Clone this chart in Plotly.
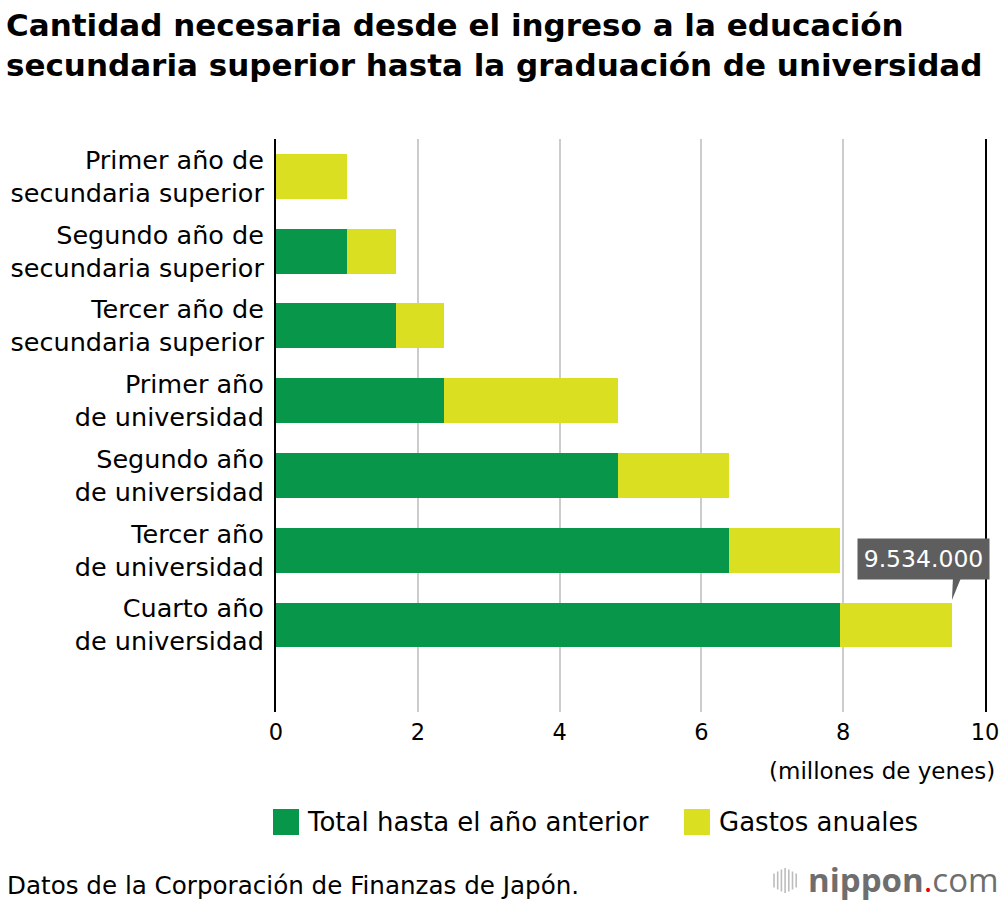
import numpy as np
import plotly.graph_objects as go

# data (yen)
categories = [
    'Primer año de<br>secundaria superior',
    'Segundo año de<br>secundaria superior',
    'Tercer año de<br>secundaria superior',
    'Primer año<br>de universidad',
    'Segundo año<br>de universidad',
    'Tercer año<br>de universidad',
    'Cuarto año<br>de universidad',
]
annual_costs = [1000000, 690000, 680000, 2450000, 1570000, 1570000, 1574000]
series_names = ['Total hasta el año anterior', 'Gastos anuales']
series_colors = ['#08974a', '#dae021']
x_ticks = [0, 2, 4, 6, 8, 10]

annual = np.array(annual_costs) / 1e6
previous = np.concatenate([[0], np.cumsum(annual)[:-1]])
total = previous[-1] + annual[-1]

FONT = 'DejaVu Sans, Liberation Sans, sans-serif'

# plot area in pixels
L, R, T, B = 276, 985, 139, 712


def px(x):
    return (x - L) / (R - L)


def py(y):
    return (B - y) / (B - T)


traces = [
    go.Bar(y=categories, x=previous, orientation='h', name=series_names[0],
           marker=dict(color=series_colors[0], line=dict(width=0))),
    go.Bar(y=categories, x=annual, orientation='h', name=series_names[1],
           marker=dict(color=series_colors[1], line=dict(width=0))),
]

fig = go.Figure(data=traces)

annotations = [
    dict(xref='paper', yref='paper', x=px(4), y=py(5), xanchor='left', yanchor='top',
         showarrow=False, align='left',
         text='<b>Cantidad necesaria desde el ingreso a la educación<br>'
              'secundaria superior hasta la graduación de universidad</b>',
         font=dict(family=FONT, size=31, color='#000')),
    dict(xref='paper', yref='paper', x=px(997), y=py(771), xanchor='right', yanchor='middle',
         showarrow=False, text='(millones de yenes)',
         font=dict(family=FONT, size=23, color='#000')),
    dict(xref='paper', yref='paper', x=px(305), y=py(822), xanchor='left', yanchor='middle',
         showarrow=False, text=series_names[0],
         font=dict(family=FONT, size=26, color='#000')),
    dict(xref='paper', yref='paper', x=px(717), y=py(822), xanchor='left', yanchor='middle',
         showarrow=False, text=series_names[1],
         font=dict(family=FONT, size=26, color='#000')),
    dict(xref='paper', yref='paper', x=px(5), y=py(885), xanchor='left', yanchor='middle',
         showarrow=False, text='Datos de la Corporación de Finanzas de Japón.',
         font=dict(family=FONT, size=24.6, color='#000')),
    dict(xref='paper', yref='paper', x=px(1001), y=py(880), xanchor='right', yanchor='middle',
         showarrow=False,
         text="<b>nippon</b><span style='color:#e60012'>.</span>com",
         font=dict(family='Open Sans, sans-serif', size=33, color='#6e6e6e')),
    # value callout
    dict(x=total, y=categories[-1], xshift=-28.5, yshift=66, showarrow=False,
         text=f'{total * 1e6:,.0f}'.replace(',', '.'),
         bgcolor='#5e5e5e', width=123, height=32, borderpad=4,
         font=dict(family=FONT, size=23.5, color='#fff')),
]

shapes = [
    # callout pointer
    dict(type='path', xref='x', yref='y', xsizemode='pixel', ysizemode='pixel',
         xanchor=total, yanchor=categories[-1],
         path='M 1,47 L 9,47 L 0,25 Z', fillcolor='#5e5e5e', line=dict(width=0)),
    # legend swatches
    dict(type='rect', xref='paper', yref='paper', x0=px(273), x1=px(299), y0=py(835), y1=py(809),
         fillcolor=series_colors[0], line=dict(width=0)),
    dict(type='rect', xref='paper', yref='paper', x0=px(684), x1=px(710), y0=py(835), y1=py(809),
         fillcolor=series_colors[1], line=dict(width=0)),
]

# logo bars
for i, h in enumerate([14, 18, 22, 25, 22, 18, 14]):
    cx = 774 + i * 3.7
    shapes.append(dict(type='line', xref='paper', yref='paper',
                       x0=px(cx), x1=px(cx), y0=py(880.5 - h / 2), y1=py(880.5 + h / 2),
                       line=dict(color='#bdbdbd', width=1.6)))

fig.update_layout(
    width=1000,
    height=902,
    barmode='stack',
    bargap=0.4,
    showlegend=False,
    plot_bgcolor='#fff',
    paper_bgcolor='#fff',
    margin=dict(l=L, r=1000 - R, t=T, b=902 - B, pad=0),
    font=dict(family=FONT, color='#000'),
    xaxis=dict(
        range=[0, 10],
        tickvals=x_ticks,
        ticktext=[str(t) for t in x_ticks],
        showgrid=True,
        gridcolor='#cccccc',
        gridwidth=2,
        zeroline=False,
        showline=False,
        ticks='',
        automargin=False,
        ticklabelstandoff=4,
        tickfont=dict(family=FONT, size=22.5, color='#000'),
        fixedrange=True,
    ),
    yaxis=dict(
        autorange='reversed',
        showgrid=False,
        zeroline=False,
        showline=True,
        mirror=True,
        linecolor='#000',
        linewidth=2,
        ticks='',
        automargin=False,
        ticklabelstandoff=5,
        tickfont=dict(family=FONT, size=25.5, color='#000'),
        fixedrange=True,
    ),
    annotations=annotations,
    shapes=shapes,
)

fig.write_html('out.html', config={'displayModeBar': False},
               post_script="document.body.style.margin='0';")
